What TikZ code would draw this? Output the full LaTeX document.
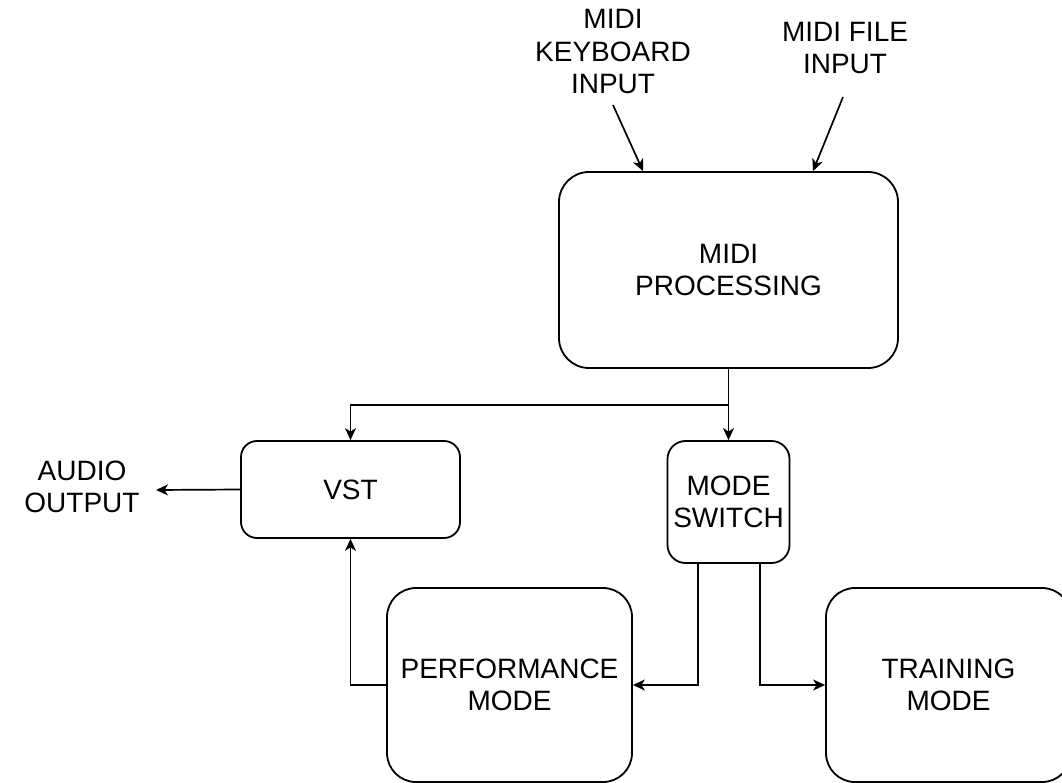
\documentclass[tikz,border=0pt]{standalone}
\usepackage{fontspec}
\setmainfont{Liberation Sans}
\usetikzlibrary{arrows.meta}
\begin{document}
\begin{tikzpicture}[x=1pt,y=-1pt,
  txt/.style={align=center, inner sep=0pt, font=\fontsize{28}{32.5}\selectfont},
  box/.style={txt, draw, line width=1.8pt},
  conn/.style={line width=1.7pt, -{Stealth[length=12pt,width=11pt,inset=3.5pt]}}]
\useasboundingbox (0,0) rectangle (1062,783);
\begin{scope}
\clip (0,0) rectangle (1062,783);
\node[box, rounded corners=30pt, minimum width=339pt, minimum height=196pt] (proc) at (728.5,270) {MIDI\\PROCESSING};
\node[box, rounded corners=16pt, minimum width=219pt, minimum height=97pt] (vst) at (350.5,489.5) {VST};
\node[box, rounded corners=18pt, minimum width=122pt, minimum height=122pt] (switch) at (728.5,502) {MODE\\SWITCH};
\node[box, rounded corners=29pt, minimum width=245pt, minimum height=194pt] (perf) at (509.5,685) {PERFORMANCE\\MODE};
\node[box, rounded corners=29pt, minimum width=245pt, minimum height=194pt] (train) at (948.5,685) {TRAINING\\MODE};
\end{scope}
\node[txt] (kb) at (613,52) {MIDI\\KEYBOARD\\INPUT};
\node[txt] (file) at (845,48) {MIDI FILE\\INPUT};
\node[txt] (audio) at (82,487) {AUDIO\\OUTPUT};
\coordinate (kbtail) at (613,105);
\coordinate (filetail) at (843,97);
\coordinate (aout) at (156,490);
\draw[conn] (kbtail) -- ([xshift=-85.5pt]proc.north);
\draw[conn] (filetail) -- ([xshift=84.5pt]proc.north);
\draw[conn] (proc.south) -- ++(0,36) -| (vst.north);
\draw[conn] (proc.south) -- (switch.north);
\draw[conn] ([xshift=-30.5pt]switch.south) |- (perf.east);
\draw[conn] ([xshift=31.5pt]switch.south) |- (train.west);
\draw[conn] (perf.west) -| (vst.south);
\draw[conn] (vst.west) -- (aout);
\end{tikzpicture}
\end{document}
